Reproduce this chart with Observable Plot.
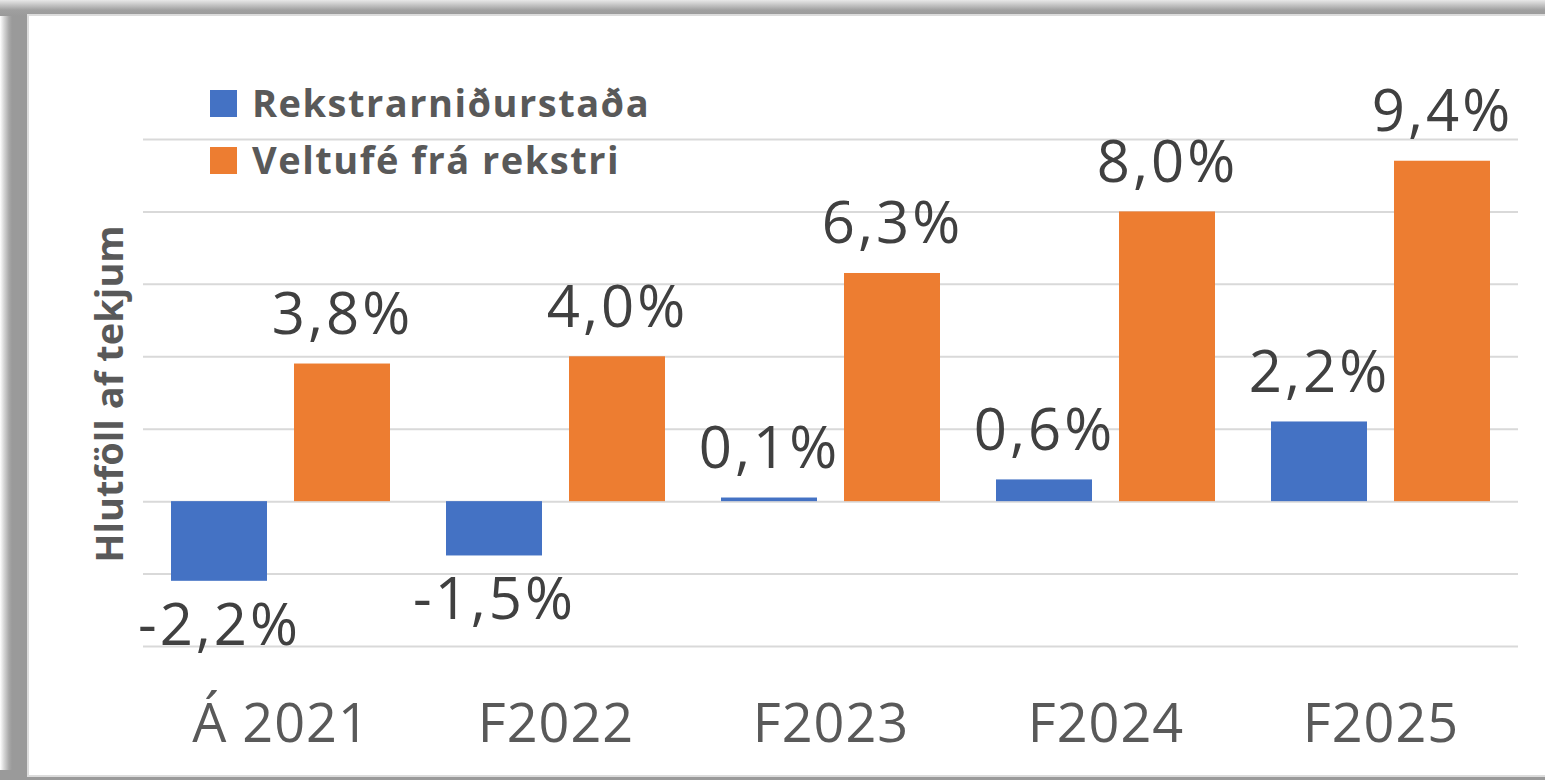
<!DOCTYPE html>
<html><head><meta charset="utf-8">
<script src="https://cdn.jsdelivr.net/npm/d3@7"></script>
<script src="https://cdn.jsdelivr.net/npm/@observablehq/plot@0.6"></script>
<style>
html,body{margin:0;padding:0;background:#fff;}
#wrap{position:relative;width:1545px;height:780px;overflow:hidden;font-family:"Open Sans",sans-serif;}
#shadowL{position:absolute;left:0;top:0;width:30px;height:780px;background:linear-gradient(to right,#ffffff 0px,#d6d6d6 4px,#a8a8a8 9px,#9a9a9a 12px,#9a9a9a 30px);}
#shadowT{position:absolute;left:0;top:0;width:1545px;height:16px;background:linear-gradient(to bottom,#e8e8e8 0px,#c4c4c4 5px,#a0a0a0 10px,#9a9a9a 16px);}
#shadowB{position:absolute;left:0;top:770px;width:1545px;height:10px;background:#9a9a9a;}
#panel{position:absolute;left:27px;top:14px;width:1560px;height:759px;background:#fff;border:2px solid #dcdcdc;}
#chart{position:absolute;left:0;top:0;}
.leg{position:absolute;left:210px;font-weight:700;font-size:38px;letter-spacing:1.5px;line-height:1.362;color:#595959;white-space:nowrap;}
.sw{position:absolute;left:0;width:27px;height:27px;}
.legtxt{position:absolute;left:42px;top:0;}
#ytitle{position:absolute;left:108px;top:394px;transform:translate(-50%,-50%) rotate(-90deg);font-weight:700;font-size:38px;line-height:1;color:#595959;white-space:nowrap;}
</style>
</head>
<body>
<div id="wrap">
  <div id="shadowL"></div>
  <div id="shadowT"></div>
  <div id="shadowB"></div>
  <div id="panel"></div>
  <div id="chart"></div>
  <div id="ytitle"></div>
  <div id="legend"></div>
</div>
<script>
const years = ["Á 2021", "F2022", "F2023", "F2024", "F2025"];
const seriesNames = ["Rekstrarniðurstaða", "Veltufé frá rekstri"];
const rekstrarnidurstada = [-2.2, -1.5, 0.1, 0.6, 2.2];
const veltufe = [3.8, 4.0, 6.3, 8.0, 9.4];
const yTicks = [-4, -2, 0, 2, 4, 6, 8, 10];
const colors = ["#4472C4", "#ED7D31"];
const yTitle = "Hlutföll af tekjum";

const data = years.flatMap((y, i) => [
  {year: y, series: seriesNames[0], value: rekstrarnidurstada[i]},
  {year: y, series: seriesNames[1], value: veltufe[i]}
]);
const fmt = v => v.toFixed(1).replace(".", ",") + "%";

const chart = Plot.plot({
  width: 1545,
  height: 780,
  marginTop: 139,
  marginBottom: 134,
  marginLeft: 143,
  marginRight: 27,
  style: {background: "transparent", fontFamily: "'Open Sans', sans-serif", overflow: "visible"},
  fx: {domain: years, padding: 0, label: null},
  x: {domain: seriesNames, padding: 0.22, axis: null},
  y: {domain: [-4, 10], axis: null},
  color: {domain: seriesNames, range: colors},
  marks: [
    Plot.ruleY(yTicks, {stroke: "#d9d9d9", strokeWidth: 2}),
    Plot.barY(data, {fx: "year", x: "series", y: "value", fill: "series"}),
    Plot.text(data.filter(d => d.value >= 0), {fx: "year", x: "series", y: "value", text: d => fmt(d.value), lineAnchor: "bottom", dy: -30, fontSize: 58, fill: "#404040", style: "letter-spacing:3px"}),
    Plot.text(data.filter(d => d.value < 0), {fx: "year", x: "series", y: "value", text: d => fmt(d.value), lineAnchor: "top", dy: 22, fontSize: 58, fill: "#404040"}),
    Plot.axisFx({anchor: "bottom", tickSize: 0, tickPadding: 57, fontSize: 54, fill: "#595959", label: null})
  ]
});
document.getElementById("chart").appendChild(chart);
chart.querySelectorAll("text").forEach(t => {
  if (/%$/.test(t.textContent)) t.setAttribute("letter-spacing", "3px");
  else t.setAttribute("letter-spacing", "1px");
});

document.getElementById("ytitle").textContent = yTitle;
const legend = document.getElementById("legend");
seriesNames.forEach((name, i) => {
  const row = document.createElement("div");
  row.className = "leg";
  row.style.top = (77 + i * 57) + "px";
  const sw = document.createElement("span");
  sw.className = "sw";
  sw.style.background = colors[i];
  sw.style.top = "13px";
  const t = document.createElement("span");
  t.className = "legtxt";
  t.textContent = name;
  row.appendChild(sw);
  row.appendChild(t);
  legend.appendChild(row);
});
</script>
</body></html>
